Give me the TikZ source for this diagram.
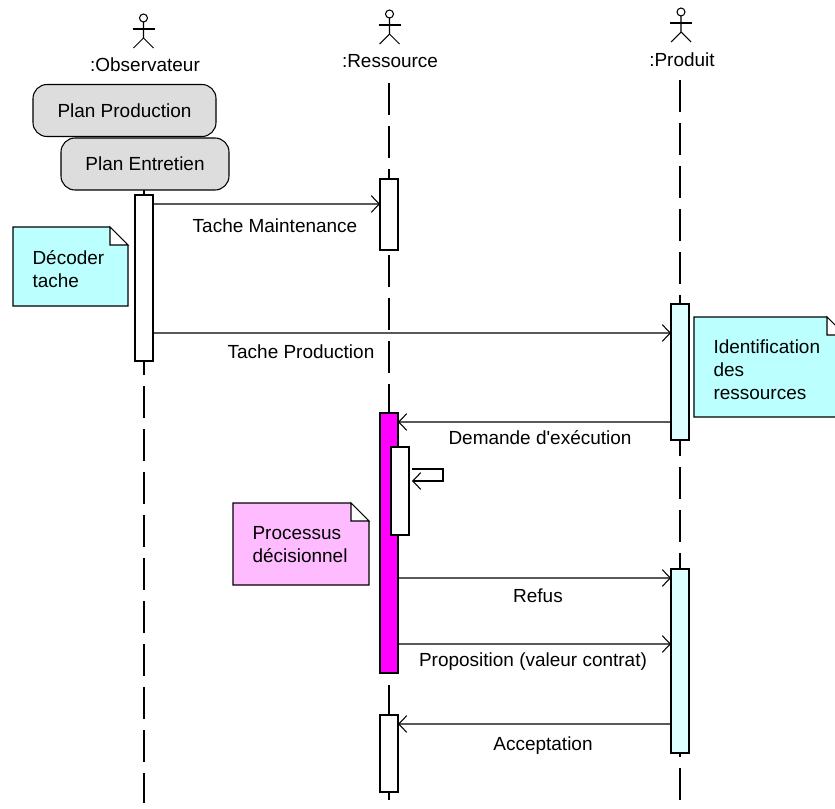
\documentclass[tikz,border=0pt]{standalone}
\usepackage{fontspec}
\setmainfont{Liberation Sans}
\usetikzlibrary{arrows.meta}
\definecolor{notecyan}{HTML}{BBFFFF}
\definecolor{notepink}{HTML}{FFBBFF}
\definecolor{barcyan}{HTML}{DDFFFF}
\definecolor{plangray}{HTML}{DDDDDD}
\definecolor{barmagenta}{HTML}{FF00FF}
\newcommand{\notefold}[5]{%
  \draw [fill=#5] (#1,#2) -- (#3-18,#2) -- (#3,#2+18) -- (#3,#4) -- (#1,#4) -- cycle;
  \draw [fill=white] (#3-18,#2) -- (#3,#2+18) -- (#3-18,#2+18) -- cycle;
}
\tikzset{
  every node/.style={font=\fontsize{16.2}{19}\selectfont},
  lifebar/.style={draw,fill=white,inner sep=0,outer sep=0,minimum width=0.54cm},
  planbox/.style={draw,fill=plangray,rounded corners=0.42cm,inner sep=0,outer sep=0},
  notetext/.style={anchor=west,align=left,inner sep=0,
    font=\fontsize{16.2}{19.6}\selectfont},
  msg/.style={->},
  lifeline/.style={dash pattern=on 0.96cm off 0.33cm}
}
\begin{document}
\begin{tikzpicture}[x=0.03cm,y=-0.03cm,line width=0.9pt,
    >={Straight Barb[length=0.24cm,width=0.5cm]}]

  \clip (0,0) rectangle (835,809);

  % actors
  \foreach \ax/\ay in {143.5/18, 389.5/14, 681/12}
  {
    \draw (\ax,\ay) circle [radius=4];
    \draw (\ax-11,\ay+11) -- (\ax+11,\ay+11);
    \draw (\ax,\ay+4) -- (\ax,\ay+20) -- (\ax-10,\ay+30);
    \draw (\ax,\ay+20) -- (\ax+10,\ay+30);
  }

  \node (obsName) at (145,65) {:Observateur};
  \node (resName) at (390,61) {:Ressource};
  \node (prodName) at (682,60) {:Produit};

  % life lines
  \coordinate (obsTop) at (144,171);
  \coordinate (obsEnd) at (144,803);
  \coordinate (resTop) at (389,83);
  \coordinate (resEnd) at (389,800);
  \coordinate (prodTop) at (680,80);
  \coordinate (prodEnd) at (680,800);
  \draw [lifeline] (obsTop) -- (obsEnd);
  \draw [lifeline] (resTop) -- (resEnd);
  \draw [lifeline] (prodTop) -- (prodEnd);

  \node [planbox,minimum width=5.49cm,minimum height=1.56cm] (planProd) at (124.5,110.5) {Plan Production};
  \node [planbox,minimum width=5.04cm,minimum height=1.56cm] (planEnt) at (145,164) {Plan Entretien};

  % activation bars
  \node [lifebar,minimum height=4.98cm] (barObs) at (144,278) {};
  \node [lifebar,minimum height=2.13cm] (barResA) at (389,214.5) {};
  \node [lifebar,fill=barmagenta,minimum height=7.8cm] (barResB) at (389,543) {};
  \node [lifebar,minimum height=2.64cm] (barResC) at (400,491) {};
  \node [lifebar,minimum height=2.31cm] (barResD) at (389,753.5) {};
  \node [lifebar,fill=barcyan,minimum height=4.08cm] (barProdA) at (680,372) {};
  \node [lifebar,fill=barcyan,minimum height=5.52cm] (barProdB) at (680,661) {};

  % messages
  \draw [msg] ([yshift=-0.27cm]barObs.north east) -- ([yshift=-0.75cm]barResA.north west);
  \node (tacheMaint) at (275,226) {Tache Maintenance};

  \draw [msg] ([yshift=-4.14cm]barObs.north east) -- ([yshift=-0.87cm]barProdA.north west);
  \node (tacheProd) at (301,352) {Tache Production};

  \draw [msg] ([yshift=-3.54cm]barProdA.north west) -- ([yshift=-0.27cm]barResB.north east);
  \node (demande) at (540,438) {Demande d\textquotesingle exécution};

  \draw [msg] ([xshift=0.09cm,yshift=-0.66cm]barResC.north east) -- ++(31,0) -- ++(0,12) -- ++(-31,0);

  \draw [msg] ([yshift=-4.95cm]barResB.north east) -- ([yshift=-0.27cm]barProdB.north west);
  \node (refus) at (538,596) {Refus};

  \draw [msg] ([yshift=-6.93cm]barResB.north east) -- ([yshift=-2.25cm]barProdB.north west);
  \node (proposition) at (533,662) {Proposition (valeur contrat)};

  \draw [msg] ([yshift=-4.65cm]barProdB.north west) -- ([yshift=-0.27cm]barResD.north east);
  \node (acceptation) at (543,746) {Acceptation};

  % notes
  \notefold{13}{227}{128}{306}{notecyan}
  \node [notetext] (noteDecoder) at (32,269) {Décoder\\tache};

  \notefold{694}{317}{845}{417}{notecyan}
  \node [notetext] (noteIdent) at (713,370) {Identification\\des\\ressources};

  \notefold{233}{503}{369}{585}{notepink}
  \node [notetext] (noteProc) at (252,545) {Processus\\décisionnel};

\end{tikzpicture}
\end{document}
